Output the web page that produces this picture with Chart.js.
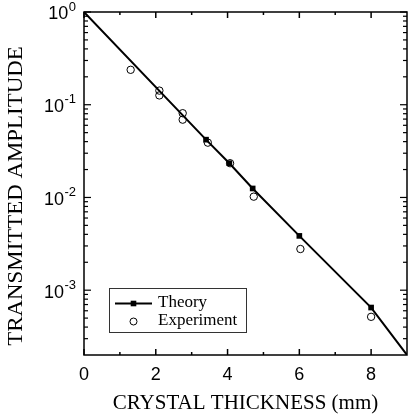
<!DOCTYPE html>
<html><head><meta charset="utf-8">
<script src="https://cdn.jsdelivr.net/npm/chart.js@4/dist/chart.umd.min.js"></script>
<style>html,body{margin:0;padding:0;background:#fff}#wrap{width:412px;height:416px}</style>
</head><body><div id="wrap"><canvas id="c" width="412" height="416"></canvas></div>
<script>
// ---- data ----
const theoryX = [0, 3.4, 4.05, 4.7, 6, 8, 9];
const theoryY = [1, 0.042, 0.0234, 0.0125, 0.00385, 0.00065, 0.0002];
const theoryMarker = [false, true, true, true, true, true, false];
const experimentX = [1.3, 2.1, 2.1, 2.75, 2.75, 3.45, 4.07, 4.73, 6.03, 8.0];
const experimentY = [0.238, 0.142, 0.126, 0.081, 0.069, 0.039, 0.0234, 0.0102, 0.00278, 0.000516];
const xTickValues = [0, 2, 4, 6, 8];
const xMinorValues = [1, 3, 5, 7];
const yDecades = [1, 0.1, 0.01, 0.001];
const yTickBase = ['10', '10', '10', '10'];
const yTickExp = ['0', '-1', '-2', '-3'];
const xTitle = 'CRYSTAL THICKNESS (mm)';
const yTitle = 'TRANSMITTED AMPLITUDE';
const legendLabels = ['Theory', 'Experiment'];

const SANS = 'Liberation Sans, Arial, sans-serif';
const SERIF = 'Liberation Serif, Times New Roman, serif';

function seg(c, x1, y1, x2, y2) { c.beginPath(); c.moveTo(x1, y1); c.lineTo(x2, y2); c.stroke(); }

const decorPlugin = {
  id: 'decor',
  afterDraw(chart) {
    const c = chart.ctx, a = chart.chartArea, xs = chart.scales.x, ys = chart.scales.y;
    c.save();
    c.strokeStyle = '#000'; c.lineWidth = 1.5;
    c.strokeRect(a.left, a.top, a.right - a.left, a.bottom - a.top);
    // x ticks (inward, top and bottom)
    xTickValues.forEach(v => { const p = xs.getPixelForValue(v); seg(c, p, a.bottom, p, a.bottom - 6); seg(c, p, a.top, p, a.top + 6); });
    xMinorValues.forEach(v => { const p = xs.getPixelForValue(v); seg(c, p, a.bottom, p, a.bottom - 3); seg(c, p, a.top, p, a.top + 3); });
    // y ticks (inward, left and right)
    c.lineWidth = 1.2;
    yDecades.concat([0.0001]).forEach(d => {
      for (let m = 1; m <= 9; m++) {
        const v = m * d;
        if (v < ys.min * 1.01 || v > ys.max * 1.001) continue;
        const p = ys.getPixelForValue(v);
        const len = m === 1 ? 7 : 4;
        seg(c, a.left, p, a.left + len, p);
        seg(c, a.right, p, a.right - len, p);
      }
    });
    // y tick labels with superscripts
    c.fillStyle = '#000';
    c.textBaseline = 'middle';
    yDecades.forEach((d, i) => {
      const p = ys.getPixelForValue(d);
      c.font = '13px ' + SANS;
      c.textAlign = 'right';
      const supW = c.measureText(yTickExp[i]).width;
      c.fillText(yTickExp[i], 76, p - 5);
      c.font = '18px ' + SANS;
      c.fillText(yTickBase[i], 76 - supW - 0.5, p + 2.5);
    });
    // axis titles
    c.font = '21px ' + SERIF;
    c.textAlign = 'center';
    c.fillText(xTitle, (a.left + a.right) / 2, 403);
    c.save();
    c.translate(16, 196);
    c.rotate(-Math.PI / 2);
    c.scale(1.09, 1);
    c.fillText(yTitle, 0, 0);
    c.restore();
    // legend
    c.lineWidth = 1; c.strokeStyle = '#333';
    c.strokeRect(109.5, 288.5, 137, 44);
    c.strokeStyle = '#000'; c.lineWidth = 2;
    seg(c, 115, 303.5, 152, 303.5);
    c.fillRect(133.5 - 2.8, 303.5 - 2.8, 5.6, 5.6);
    c.lineWidth = 1;
    c.beginPath(); c.arc(133.5, 321.5, 3.5, 0, Math.PI * 2); c.stroke();
    c.font = '17px ' + SERIF;
    c.textAlign = 'left';
    c.fillText(legendLabels[0], 158, 303);
    c.fillText(legendLabels[1], 158, 321);
    c.restore();
  }
};

new Chart(document.getElementById('c').getContext('2d'), {
  type: 'scatter',
  data: {
    datasets: [
      {
        label: legendLabels[0],
        data: theoryX.map((x, i) => ({ x: x, y: theoryY[i] })),
        showLine: true,
        borderColor: '#000',
        borderWidth: 2,
        pointStyle: 'rect',
        pointRadius: theoryMarker.map(m => m ? 4 : 0),
        pointBackgroundColor: '#000',
        pointBorderColor: '#000',
        pointBorderWidth: 0,
        order: 1
      },
      {
        label: legendLabels[1],
        data: experimentX.map((x, i) => ({ x: x, y: experimentY[i] })),
        showLine: false,
        pointStyle: 'circle',
        pointRadius: 3.7,
        pointBackgroundColor: 'rgba(0,0,0,0)',
        pointBorderColor: '#000',
        pointBorderWidth: 1,
        order: 0
      }
    ]
  },
  options: {
    responsive: false,
    animation: false,
    devicePixelRatio: 1,
    layout: { padding: { top: 12, right: 0, left: 0, bottom: 0 } },
    plugins: { legend: { display: false }, tooltip: { enabled: false } },
    scales: {
      x: {
        type: 'linear', min: 0, max: 9,
        afterBuildTicks: s => { s.ticks = xTickValues.map(v => ({ value: v })); },
        grid: { display: false, drawTicks: false },
        border: { display: false },
        ticks: { font: { family: SANS, size: 18 }, color: '#000', padding: 9, maxRotation: 0, autoSkip: false, callback: v => String(v) },
        afterFit: s => { s.height = 61; }
      },
      y: {
        type: 'logarithmic', min: 0.0002, max: 1,
        grid: { display: false, drawTicks: false },
        border: { display: false },
        ticks: { display: false },
        afterFit: s => { s.width = 84; }
      }
    }
  },
  plugins: [decorPlugin]
});
</script>
</body></html>
